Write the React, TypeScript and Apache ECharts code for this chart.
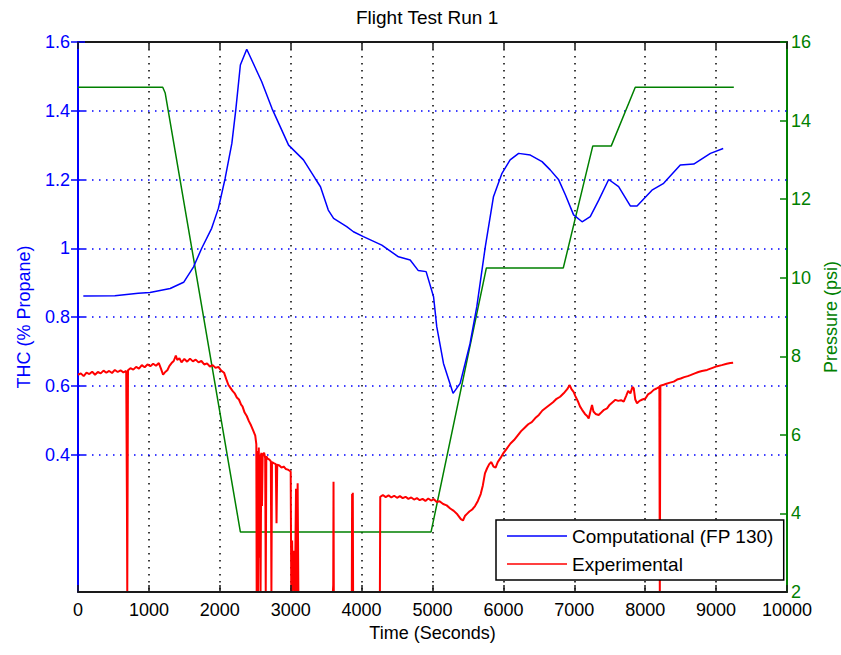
import React, { useEffect, useRef } from 'react';
import * as echarts from 'echarts';

// Computational (FP 130) — THC (% Propane), left axis
const compT = [75, 520, 850, 1015, 1300, 1490, 1630, 1745, 1885, 1980, 2075, 2170, 2225, 2290, 2380, 2590, 2735, 2970, 3180, 3345, 3420, 3530, 3605, 3790, 3885, 4025, 4285, 4520, 4685, 4800, 4910, 5015, 5060, 5155, 5290, 5390, 5530, 5625, 5745, 5860, 5980, 6095, 6215, 6380, 6545, 6660, 6780, 6875, 6990, 7110, 7225, 7345, 7485, 7625, 7790, 7885, 8095, 8260, 8495, 8685, 8920, 9100];
const compV = [0.861, 0.862, 0.869, 0.871, 0.883, 0.901, 0.946, 1.0, 1.058, 1.116, 1.203, 1.305, 1.402, 1.533, 1.579, 1.485, 1.407, 1.3, 1.257, 1.203, 1.179, 1.111, 1.087, 1.063, 1.048, 1.034, 1.009, 0.975, 0.966, 0.935, 0.932, 0.859, 0.772, 0.665, 0.578, 0.607, 0.723, 0.83, 1.005, 1.15, 1.218, 1.257, 1.276, 1.271, 1.252, 1.228, 1.199, 1.155, 1.097, 1.077, 1.092, 1.14, 1.2, 1.179, 1.123, 1.123, 1.169, 1.189, 1.242, 1.245, 1.276, 1.29];

// Experimental — THC (% Propane), left axis
const expT = [0, 40, 80, 120, 160, 200, 240, 280, 320, 360, 400, 440, 480, 520, 560, 600, 640, 680, 690, 695, 700, 705, 740, 780, 820, 860, 900, 940, 980, 1020, 1060, 1100, 1140, 1170, 1200, 1230, 1260, 1290, 1320, 1350, 1380, 1400, 1430, 1460, 1500, 1540, 1580, 1620, 1660, 1700, 1740, 1780, 1820, 1860, 1900, 1940, 1980, 2020, 2060, 2090, 2120, 2150, 2180, 2210, 2240, 2270, 2300, 2320, 2350, 2380, 2410, 2440, 2470, 2500, 2515, 2520, 2530, 2540, 2550, 2558, 2566, 2575, 2585, 2595, 2605, 2625, 2640, 2648, 2656, 2675, 2700, 2720, 2728, 2736, 2760, 2790, 2800, 2810, 2840, 2870, 2900, 2930, 2960, 2990, 3000, 3008, 3020, 3030, 3045, 3060, 3075, 3085, 3098, 3108, 3595, 3600, 3604, 3608, 3862, 3866, 3870, 3876, 3880, 4258, 4263, 4300, 4340, 4380, 4420, 4460, 4500, 4540, 4580, 4620, 4660, 4700, 4740, 4780, 4820, 4860, 4900, 4940, 4980, 5020, 5060, 5100, 5150, 5200, 5250, 5300, 5350, 5400, 5430, 5460, 5490, 5520, 5560, 5600, 5640, 5680, 5710, 5740, 5770, 5800, 5830, 5860, 5890, 5920, 5960, 6000, 6050, 6100, 6150, 6200, 6250, 6300, 6350, 6400, 6450, 6500, 6550, 6600, 6650, 6700, 6750, 6800, 6850, 6900, 6935, 6960, 6990, 7015, 7050, 7080, 7110, 7150, 7180, 7203, 7230, 7250, 7270, 7300, 7344, 7380, 7420, 7462, 7500, 7540, 7580, 7620, 7660, 7697, 7730, 7760, 7791, 7820, 7838, 7860, 7885, 7920, 7960, 8003, 8040, 8080, 8120, 8160, 8200, 8203, 8206, 8210, 8214, 8260, 8300, 8350, 8403, 8450, 8500, 8550, 8600, 8638, 8700, 8750, 8800, 8873, 8950, 9015, 9080, 9150, 9200, 9240];
const expV = [0.632, 0.636, 0.628, 0.638, 0.634, 0.641, 0.632, 0.64, 0.636, 0.644, 0.638, 0.643, 0.637, 0.646, 0.64, 0.645, 0.639, 0.643, 0.27, 0.0, 0.0, 0.645, 0.651, 0.647, 0.655, 0.65, 0.66, 0.654, 0.662, 0.657, 0.664, 0.658, 0.666, 0.65, 0.632, 0.64, 0.645, 0.658, 0.666, 0.672, 0.688, 0.675, 0.68, 0.668, 0.678, 0.67, 0.679, 0.671, 0.676, 0.668, 0.672, 0.662, 0.665, 0.656, 0.66, 0.652, 0.655, 0.644, 0.638, 0.62, 0.603, 0.594, 0.585, 0.578, 0.566, 0.56, 0.545, 0.54, 0.522, 0.512, 0.497, 0.485, 0.47, 0.455, 0.43, 0.0, 0.41, 0.0, 0.42, 0.1, 0.4, 0.0, 0.405, 0.25, 0.4, 0.405, 0.39, 0.0, 0.395, 0.388, 0.385, 0.38, 0.0, 0.378, 0.375, 0.372, 0.2, 0.37, 0.368, 0.362, 0.365, 0.358, 0.356, 0.352, 0.35, 0.0, 0.15, 0.0, 0.12, 0.0, 0.3, 0.0, 0.316, 0.0, 0.0, 0.02, 0.321, 0.0, 0.0, 0.285, 0.0, 0.289, 0.0, 0.0, 0.277, 0.282, 0.276, 0.281, 0.275, 0.28, 0.274, 0.279, 0.273, 0.277, 0.271, 0.275, 0.269, 0.273, 0.267, 0.271, 0.265, 0.272, 0.266, 0.27, 0.262, 0.264, 0.256, 0.252, 0.243, 0.236, 0.226, 0.212, 0.208, 0.222, 0.228, 0.234, 0.24, 0.25, 0.265, 0.285, 0.31, 0.345, 0.36, 0.372, 0.378, 0.365, 0.362, 0.378, 0.39, 0.404, 0.418, 0.432, 0.442, 0.455, 0.468, 0.478, 0.488, 0.494, 0.506, 0.515, 0.528, 0.536, 0.544, 0.552, 0.562, 0.568, 0.578, 0.59, 0.602, 0.59, 0.582, 0.57, 0.555, 0.54, 0.53, 0.518, 0.512, 0.505, 0.528, 0.544, 0.525, 0.518, 0.515, 0.522, 0.53, 0.534, 0.545, 0.552, 0.559, 0.556, 0.558, 0.554, 0.57, 0.585, 0.578, 0.596, 0.593, 0.56, 0.549, 0.556, 0.56, 0.563, 0.575, 0.58, 0.588, 0.592, 0.597, 0.297, 0.0, 0.0, 0.6, 0.603, 0.606, 0.609, 0.612, 0.618, 0.621, 0.625, 0.628, 0.631, 0.636, 0.64, 0.643, 0.646, 0.652, 0.657, 0.66, 0.664, 0.666, 0.667];

// Pressure (psi), right axis
const presT = [0, 1195, 1230, 2290, 4980, 5760, 6845, 7260, 7520, 7860, 9250];
const presV = [14.85, 14.85, 14.7, 3.53, 3.53, 10.25, 10.25, 13.35, 13.35, 14.85, 14.85];

// Axis tick values
const xTicks = [0, 1000, 2000, 3000, 4000, 5000, 6000, 7000, 8000, 9000, 10000];
const leftTicks = [0.4, 0.6, 0.8, 1.0, 1.2, 1.4, 1.6];
const leftGrid = [0.4, 0.6, 0.8, 1.0, 1.2, 1.4];
const rightTicks = [2, 4, 6, 8, 10, 12, 14, 16];

const FONT = '"Liberation Sans", Arial, Helvetica, sans-serif';
const BLUE = '#0000ff';
const RED = '#ff0000';
const GREEN = '#008000';
const DOT: any = [1.5, 5.5];

export default function App() {
  const ref = useRef<HTMLDivElement>(null);
  useEffect(() => {
    const chart = echarts.init(ref.current!, null, { renderer: 'svg' });
    const option: any = {
      animation: false,
      backgroundColor: '#ffffff',
      textStyle: { fontFamily: FONT },
      title: {
        text: 'Flight Test Run 1',
        left: 356,
        top: 8,
        padding: 0,
        textStyle: { fontFamily: FONT, fontSize: 19, fontWeight: 'normal', color: '#000' },
      },
      grid: { left: 78, right: 54, top: 42, bottom: 63, containLabel: false, outerBoundsMode: 'none' },
      legend: {
        data: ['Computational (FP 130)', 'Experimental'],
        orient: 'vertical',
        left: 496,
        top: 520,
        backgroundColor: '#ffffff',
        borderColor: '#000000',
        borderWidth: 1.5,
        borderRadius: 0,
        padding: [6, 10, 6, 11],
        icon: 'rect',
        itemWidth: 60,
        itemHeight: 1.6,
        itemGap: 8,
        selectedMode: false,
        textStyle: { fontFamily: FONT, fontSize: 19, lineHeight: 20, color: '#000' },
        z: 10,
      },
      xAxis: [
        {
          type: 'value',
          position: 'bottom',
          min: xTicks[0],
          max: xTicks[xTicks.length - 1],
          interval: 1000,
          z: 3,
          name: 'Time (Seconds)',
          nameLocation: 'middle',
          nameGap: 32,
          nameTextStyle: { fontFamily: FONT, fontSize: 18, color: '#000' },
          axisLine: { show: true, onZero: false, lineStyle: { color: '#1a1a1a', width: 2 } },
          axisTick: { show: true, inside: true, length: 7, lineStyle: { color: '#1a1a1a', width: 1.5 } },
          axisLabel: {
            show: true,
            margin: 9,
            fontFamily: FONT,
            fontSize: 18,
            color: '#000',
            formatter: (v: number) => String(v),
          },
          splitLine: { show: false },
        },
        {
          type: 'value',
          position: 'top',
          min: xTicks[0],
          max: xTicks[xTicks.length - 1],
          interval: 1000,
          axisLine: { show: true, onZero: false, lineStyle: { color: '#1a1a1a', width: 2 } },
          axisTick: { show: true, inside: true, length: 7, lineStyle: { color: '#1a1a1a', width: 1.5 } },
          axisLabel: { show: false },
          splitLine: { show: true, lineStyle: { color: '#000', width: 1.5, type: DOT } },
        },
      ],
      yAxis: [
        {
          type: 'value',
          position: 'left',
          min: 0,
          max: 1.6,
          interval: 0.2,
          name: 'THC (% Propane)',
          nameLocation: 'middle',
          nameGap: 45,
          nameTextStyle: { fontFamily: FONT, fontSize: 18, color: BLUE },
          axisLine: { show: true, onZero: false, lineStyle: { color: BLUE, width: 2 } },
          axisTick: { show: true, inside: true, length: 7, customValues: leftTicks, lineStyle: { color: BLUE, width: 1.5 } },
          axisLabel: {
            show: true,
            margin: 8,
            fontFamily: FONT,
            fontSize: 18,
            color: BLUE,
            customValues: leftTicks,
            formatter: (v: number) => (v < 0.3 ? '' : String(+v.toFixed(1))),
          },
          splitLine: { show: false },
        },
        {
          type: 'value',
          position: 'right',
          min: rightTicks[0],
          max: rightTicks[rightTicks.length - 1],
          interval: 2,
          name: 'Pressure (psi)',
          nameLocation: 'middle',
          nameGap: 31,
          nameTextStyle: { fontFamily: FONT, fontSize: 18, color: GREEN },
          axisLine: { show: true, onZero: false, lineStyle: { color: GREEN, width: 2 } },
          axisTick: { show: true, inside: true, length: 7, lineStyle: { color: GREEN, width: 1.5 } },
          axisLabel: { show: true, margin: 4, fontFamily: FONT, fontSize: 18, color: GREEN },
          splitLine: { show: false },
        },
        {
          type: 'value',
          position: 'right',
          min: 0,
          max: 1.6,
          interval: 0.2,
          axisLine: { show: false },
          axisTick: { show: true, inside: true, length: 7, customValues: leftTicks, lineStyle: { color: BLUE, width: 1.5 } },
          axisLabel: { show: false },
          splitLine: { show: false },
        },
      ],
      series: [
        {
          name: 'grid',
          type: 'line',
          xAxisIndex: 0,
          yAxisIndex: 0,
          data: [],
          z: 1,
          silent: true,
          markLine: {
            z: 1,
            silent: true,
            symbol: ['none', 'none'],
            label: { show: false },
            lineStyle: { color: BLUE, width: 1.5, type: DOT },
            data: leftGrid.map((v) => ({ yAxis: v })),
          },
        },
        {
          name: 'Pressure',
          type: 'line',
          xAxisIndex: 0,
          yAxisIndex: 1,
          symbol: 'none',
          showSymbol: false,
          lineStyle: { color: GREEN, width: 1.5 },
          itemStyle: { color: GREEN },
          data: presT.map((t, i) => [t, presV[i]]),
          z: 2,
        },
        {
          name: 'Experimental',
          type: 'line',
          xAxisIndex: 0,
          yAxisIndex: 0,
          symbol: 'none',
          showSymbol: false,
          lineStyle: { color: RED, width: 2 },
          itemStyle: { color: RED },
          data: expT.map((t, i) => [t, expV[i]]),
          z: 2,
        },
        {
          name: 'Computational (FP 130)',
          type: 'line',
          xAxisIndex: 0,
          yAxisIndex: 0,
          symbol: 'none',
          showSymbol: false,
          smooth: false,
          lineStyle: { color: BLUE, width: 1.5 },
          itemStyle: { color: BLUE },
          data: compT.map((t, i) => [t, compV[i]]),
          z: 2,
        },
      ],
    };
    chart.setOption(option);
    return () => chart.dispose();
  }, []);
  return (
    <div
      ref={ref}
      style={{ position: 'absolute', left: 0, top: 0, width: 841, height: 655, background: '#fff' }}
    />
  );
}
